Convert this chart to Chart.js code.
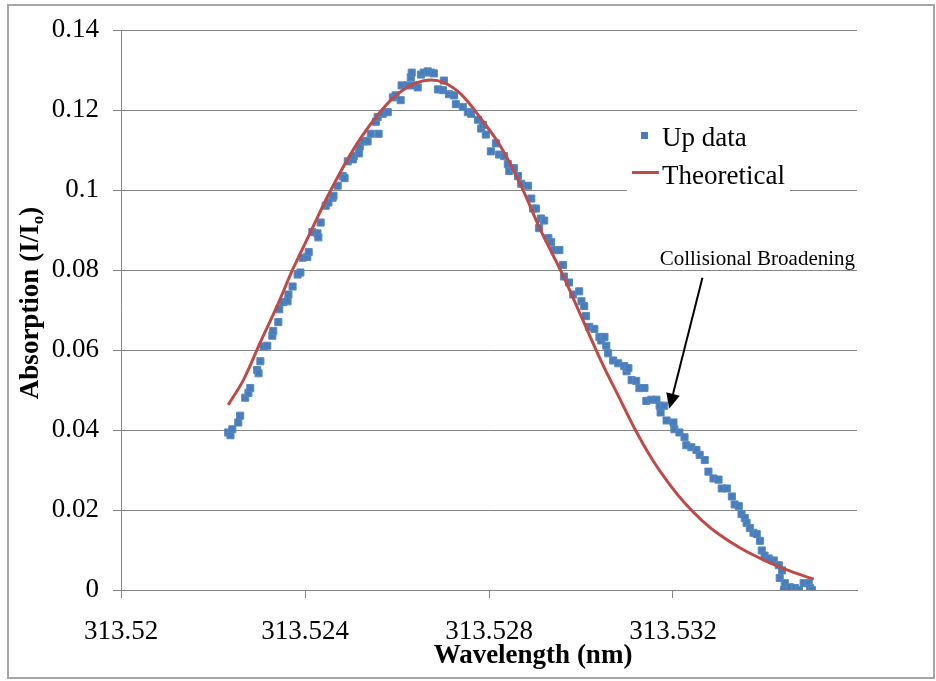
<!DOCTYPE html>
<html>
<head>
<meta charset="utf-8">
<script src="https://cdn.jsdelivr.net/npm/chart.js@4.4.1/dist/chart.umd.min.js"></script>
<style>
  html, body { margin: 0; padding: 0; background: #fff; }
  canvas { display: block; }
</style>
</head>
<body>
<canvas id="absorption_canvas_id" width="936" height="681"></canvas>
<script>
// measured "Up data" points (wavelength nm, absorption I/Io)
var upWavelength = [
  313.52233, 313.52238, 313.52242, 313.52255, 313.52259, 313.52270, 313.52277, 313.52281, 313.52296, 313.52299,
  313.52303, 313.52310, 313.52318, 313.52329, 313.52331, 313.52342, 313.52344, 313.52353, 313.52362, 313.52364,
  313.52373, 313.52384, 313.52390, 313.52395, 313.52405, 313.52408, 313.52416, 313.52427, 313.52429, 313.52434,
  313.52445, 313.52451, 313.52460, 313.52462, 313.52471, 313.52482, 313.52486, 313.52493, 313.52504, 313.52506,
  313.52517, 313.52519, 313.52528, 313.52536, 313.52543, 313.52554, 313.52558, 313.52560, 313.52569, 313.52580,
  313.52591, 313.52597, 313.52608, 313.52610, 313.52623, 313.52630, 313.52632, 313.52637, 313.52645, 313.52652,
  313.52658, 313.52667, 313.52674, 313.52680, 313.52689, 313.52700, 313.52702, 313.52713, 313.52724, 313.52728,
  313.52743, 313.52754, 313.52761, 313.52776, 313.52783, 313.52787, 313.52793, 313.52804, 313.52815, 313.52822,
  313.52833, 313.52841, 313.52844, 313.52854, 313.52863, 313.52870, 313.52885, 313.52892, 313.52896, 313.52902,
  313.52909, 313.52913, 313.52920, 313.52929, 313.52935, 313.52942, 313.52953, 313.52961, 313.52963, 313.52974,
  313.52983, 313.52996, 313.53001, 313.53007, 313.53011, 313.53018, 313.53029, 313.53040, 313.53044, 313.53051,
  313.53055, 313.53059, 313.53070, 313.53081, 313.53094, 313.53099, 313.53103, 313.53110, 313.53120, 313.53127,
  313.53138, 313.53142, 313.53153, 313.53164, 313.53171, 313.53173, 313.53181, 313.53186, 313.53201, 313.53203,
  313.53214, 313.53225, 313.53229, 313.53240, 313.53251, 313.53258, 313.53269, 313.53277, 313.53288, 313.53299,
  313.53306, 313.53317, 313.53328, 313.53334, 313.53343, 313.53349, 313.53356, 313.53360, 313.53367, 313.53375,
  313.53382, 313.53389, 313.53393, 313.53399, 313.53408, 313.53419, 313.53430, 313.53432, 313.53437, 313.53441,
  313.53443, 313.53454, 313.53465, 313.53474, 313.53484, 313.53495, 313.53498, 313.53502
];
var upAbsorption = [
  0.0394, 0.0387, 0.0402, 0.0419, 0.0436, 0.0481, 0.0493, 0.0505, 0.0550, 0.0542,
  0.0572, 0.0609, 0.0611, 0.0636, 0.0648, 0.0670, 0.0702, 0.0720, 0.0722, 0.0739,
  0.0759, 0.0789, 0.0794, 0.0831, 0.0833, 0.0845, 0.0895, 0.0892, 0.0882, 0.0919,
  0.0961, 0.0969, 0.0981, 0.0986, 0.1011, 0.1035, 0.1030, 0.1072, 0.1077, 0.1085,
  0.1092, 0.1109, 0.1122, 0.1122, 0.1141, 0.1171, 0.1183, 0.1141, 0.1191, 0.1195,
  0.1232, 0.1237, 0.1225, 0.1262, 0.1262, 0.1282, 0.1294, 0.1262, 0.1257, 0.1289,
  0.1294, 0.1297, 0.1294, 0.1292, 0.1252, 0.1250, 0.1274, 0.1240, 0.1237, 0.1215,
  0.1208, 0.1195, 0.1191, 0.1176, 0.1154, 0.1163, 0.1139, 0.1097, 0.1117, 0.1089,
  0.1085, 0.1065, 0.1048, 0.1055, 0.1035, 0.1016, 0.1011, 0.0979, 0.0954, 0.0954,
  0.0905, 0.0929, 0.0924, 0.0880, 0.0870, 0.0850, 0.0850, 0.0813, 0.0784, 0.0769,
  0.0739, 0.0747, 0.0722, 0.0710, 0.0685, 0.0658, 0.0653, 0.0633, 0.0624, 0.0633,
  0.0611, 0.0592, 0.0574, 0.0567, 0.0560, 0.0547, 0.0555, 0.0525, 0.0523, 0.0505,
  0.0505, 0.0473, 0.0476, 0.0476, 0.0461, 0.0444, 0.0461, 0.0424, 0.0419, 0.0402,
  0.0394, 0.0382, 0.0362, 0.0357, 0.0350, 0.0338, 0.0325, 0.0296, 0.0279, 0.0276,
  0.0254, 0.0254, 0.0234, 0.0214, 0.0210, 0.0190, 0.0180, 0.0168, 0.0155, 0.0143,
  0.0140, 0.0123, 0.0099, 0.0086, 0.0079, 0.0074, 0.0062, 0.0030, 0.0049, 0.0000,
  0.0017, 0.0007, 0.0005, 0.0000, 0.0017, 0.0017, 0.0005, 0.0000
];

// theoretical profile
var theoWavelength = [
  313.52233, 313.52266, 313.52303, 313.52340, 313.52375, 313.52412, 313.52449, 313.52484, 313.52521, 313.52558,
  313.52593, 313.52630, 313.52667, 313.52702, 313.52739, 313.52783, 313.52826, 313.52870, 313.52913, 313.52957,
  313.53001, 313.53044, 313.53081, 313.53116, 313.53153, 313.53190, 313.53225, 313.53262, 313.53299, 313.53349,
  313.53399, 313.53443, 313.53506
];
var theoAbsorption = [
  0.0463, 0.0525, 0.0620, 0.0712, 0.0806, 0.0895, 0.0984, 0.1060, 0.1130, 0.1188,
  0.1232, 0.1262, 0.1275, 0.1269, 0.1240, 0.1178, 0.1108, 0.1010, 0.0898, 0.0796,
  0.0683, 0.0572, 0.0486, 0.0405, 0.0330, 0.0268, 0.0218, 0.0175, 0.0140, 0.0103,
  0.0074, 0.0052, 0.0027
];

var xTickVals = [313.52, 313.524, 313.528, 313.532];
var xTickLabels = ['313.52', '313.524', '313.528', '313.532'];
var yTickVals = [0, 0.02, 0.04, 0.06, 0.08, 0.1, 0.12, 0.14];
var yTickLabels = ['0', '0.02', '0.04', '0.06', '0.08', '0.1', '0.12', '0.14'];

var noteText = 'Collisional Broadening';
var notePos = [313.53171, 0.0813];
var arrowFrom = [313.53264, 0.0781];
var arrowTo = [313.53192, 0.0454];

var SERIF = "'Liberation Serif', 'Times New Roman', serif";
var GRID = '#868686';

function toPoints(xs, ys) {
  var out = [];
  for (var i = 0; i < xs.length; i++) out.push({x: xs[i], y: ys[i]});
  return out;
}

var decor = {
  id: 'decor',
  beforeDraw: function(chart) {
    var c = chart.ctx;
    c.save();
    c.fillStyle = '#fff';
    c.fillRect(0, 0, chart.width, chart.height);
    c.strokeStyle = '#a6a6a6';
    c.lineWidth = 2;
    c.strokeRect(8, 5, 926, 673);
    c.restore();
  },
  afterDraw: function(chart) {
    var c = chart.ctx, xs = chart.scales.x, ys = chart.scales.y;
    var ds = chart.data.datasets;
    c.save();

    // legend
    c.fillStyle = '#fff';
    c.fillRect(627, 116, 163, 76);
    c.fillStyle = ds[1].backgroundColor;
    c.fillRect(641, 132, 7, 7);
    c.strokeStyle = ds[0].borderColor;
    c.lineWidth = 3;
    c.beginPath(); c.moveTo(632, 172.5); c.lineTo(659, 172.5); c.stroke();
    c.fillStyle = '#000';
    c.font = '27px ' + SERIF;
    c.textAlign = 'left';
    c.textBaseline = 'alphabetic';
    c.fillText(ds[1].label, 662, 146);
    c.fillText(ds[0].label, 662, 184);

    // axis titles
    c.font = 'bold 27px ' + SERIF;
    c.textAlign = 'center';
    c.fillText('Wavelength (nm)', 533, 663);

    c.save();
    c.translate(38, 303);
    c.rotate(-Math.PI / 2);
    var main = 'Absorption (I/I', sub = 'o', tail = ')';
    c.font = 'bold 27px ' + SERIF;
    var w1 = c.measureText(main).width, w3 = c.measureText(tail).width;
    c.font = 'bold 17px ' + SERIF;
    var w2 = c.measureText(sub).width;
    var start = -(w1 + w2 + w3) / 2;
    c.textAlign = 'left';
    c.font = 'bold 27px ' + SERIF;
    c.fillText(main, start, 0);
    c.font = 'bold 17px ' + SERIF;
    c.fillText(sub, start + w1, 5);
    c.font = 'bold 27px ' + SERIF;
    c.fillText(tail, start + w1 + w2, 0);
    c.restore();

    // annotation
    c.font = '21px ' + SERIF;
    c.textAlign = 'left';
    c.fillText(noteText, xs.getPixelForValue(notePos[0]), ys.getPixelForValue(notePos[1]));
    var x1 = xs.getPixelForValue(arrowFrom[0]), y1 = ys.getPixelForValue(arrowFrom[1]);
    var x2 = xs.getPixelForValue(arrowTo[0]), y2 = ys.getPixelForValue(arrowTo[1]);
    var ang = Math.atan2(y2 - y1, x2 - x1), hl = 15, hw = 7;
    var bx = x2 - hl * Math.cos(ang), by = y2 - hl * Math.sin(ang);
    c.strokeStyle = '#000';
    c.lineWidth = 2;
    c.beginPath(); c.moveTo(x1, y1); c.lineTo(bx, by); c.stroke();
    c.beginPath();
    c.moveTo(x2, y2);
    c.lineTo(bx + hw * Math.sin(ang), by - hw * Math.cos(ang));
    c.lineTo(bx - hw * Math.sin(ang), by + hw * Math.cos(ang));
    c.closePath();
    c.fillStyle = '#000';
    c.fill();
    c.restore();
  }
};

var ctx = document.getElementById('absorption_canvas_id').getContext('2d');
new Chart(ctx, {
  type: 'scatter',
  data: {
    datasets: [
      {
        label: 'Theoretical',
        data: toPoints(theoWavelength, theoAbsorption),
        showLine: true,
        borderColor: '#BE4B48',
        backgroundColor: '#BE4B48',
        borderWidth: 3,
        pointRadius: 0,
        tension: 0.35,
        order: 0
      },
      {
        label: 'Up data',
        data: toPoints(upWavelength, upAbsorption),
        pointStyle: 'rect',
        pointRadius: 5,
        backgroundColor: '#4A7EBB',
        borderColor: '#5689C4',
        borderWidth: 1,
        order: 1
      }
    ]
  },
  options: {
    responsive: false,
    animation: false,
    events: [],
    layout: { padding: { left: 0, right: 79, top: 22, bottom: 0 } },
    plugins: { legend: { display: false }, tooltip: { enabled: false } },
    scales: {
      x: {
        type: 'linear',
        min: 313.52,
        max: 313.536,
        afterBuildTicks: function(s) { s.ticks = xTickVals.map(function(v) { return {value: v}; }); },
        afterFit: function(s) { s.height = 91; },
        grid: { drawOnChartArea: false, color: GRID, tickLength: 8 },
        border: { color: GRID },
        ticks: {
          autoSkip: false, maxRotation: 0, padding: 18, color: '#000',
          font: { family: SERIF, size: 27 },
          callback: function(v, i) { return xTickLabels[i]; }
        }
      },
      y: {
        type: 'linear',
        min: 0,
        max: 0.14,
        afterBuildTicks: function(s) { s.ticks = yTickVals.map(function(v) { return {value: v}; }); },
        afterFit: function(s) { s.width = 121; },
        grid: { color: GRID, tickLength: 8 },
        border: { color: GRID },
        ticks: {
          padding: 14, color: '#000',
          font: { family: SERIF, size: 27 },
          callback: function(v, i) { return yTickLabels[i]; }
        }
      }
    }
  },
  plugins: [decor]
});
</script>
</body>
</html>
